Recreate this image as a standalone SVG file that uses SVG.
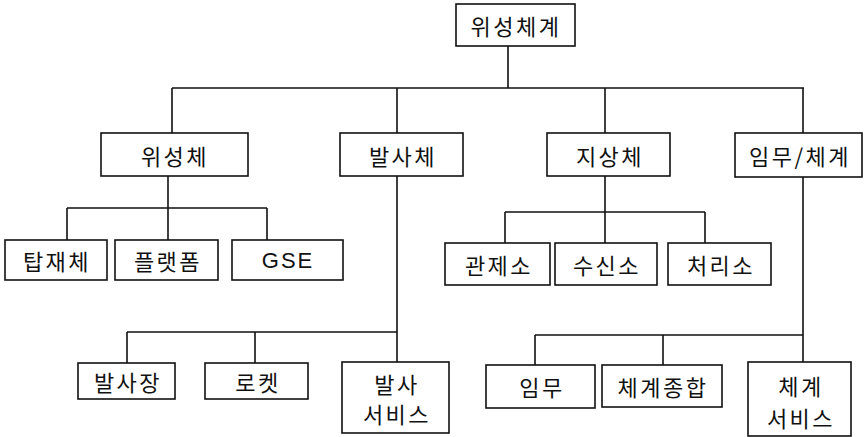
<svg xmlns="http://www.w3.org/2000/svg" width="864" height="437" viewBox="0 0 864 437">
<style>
rect{fill:#fff;stroke:#111;stroke-width:1.6}
text{font-family:"Noto Sans CJK KR","Noto Sans",sans-serif;font-size:22px;fill:#111;text-anchor:middle;dominant-baseline:central;letter-spacing:2.5px}
.lat{font-family:"Liberation Sans",Arial,sans-serif;font-size:22px;letter-spacing:2px}
#connectors path{fill:none;stroke:#111;stroke-width:1.6}
</style>
<rect x="0" y="0" width="864" height="437" style="fill:#fff;stroke:none"/>
<g id="connectors">
<path d="M508 46V88M172 88H804M172 88V133M397 88V133M605 88V133M803 88V133"/>
<path d="M168 176V208M67 208H267M67 208V240M168 208V240M267 208V240"/>
<path d="M605 176V212M505 212H705M505 212V243M605 212V243M705 212V243"/>
<path d="M397 176V332M127 332H397M127 332V363M255 332V363M397 332V362"/>
<path d="M803 177V335M535 335H803M535 335V365M663 335V365M803 335V362"/>
</g>
<g id="n-root"><rect x="456" y="4" width="119" height="42"/><text x="516" y="25">위성체계</text></g>
<g id="n-sat"><rect x="101" y="133" width="147" height="43"/><text x="175" y="155">위성체</text></g>
<g id="n-lv"><rect x="340" y="133" width="123" height="43"/><text x="403" y="155">발사체</text></g>
<g id="n-gnd"><rect x="547" y="133" width="123" height="43"/><text x="610" y="155">지상체</text></g>
<g id="n-msn"><rect x="735" y="133" width="127" height="44"/><text x="800" y="155">임무/체계</text></g>
<g id="n-payload"><rect x="5" y="240" width="102" height="40"/><text x="57" y="260">탑재체</text></g>
<g id="n-platform"><rect x="115" y="240" width="103" height="40"/><text x="168" y="260">플랫폼</text></g>
<g id="n-gse"><rect x="232" y="240" width="111" height="40"/><text class="lat" x="288" y="260">GSE</text></g>
<g id="n-ctrl"><rect x="445" y="243" width="105" height="42"/><text x="499" y="264">관제소</text></g>
<g id="n-recv"><rect x="555" y="243" width="102" height="42"/><text x="607" y="264">수신소</text></g>
<g id="n-proc"><rect x="668" y="243" width="103" height="42"/><text x="721" y="264">처리소</text></g>
<g id="n-site"><rect x="78" y="363" width="97" height="36"/><text x="128" y="381">발사장</text></g>
<g id="n-rocket"><rect x="205" y="363" width="103" height="36"/><text x="258" y="381">로켓</text></g>
<g id="n-lvsvc"><rect x="342" y="362" width="107" height="71"/><text x="397" y="383">발사</text><text x="397" y="413">서비스</text></g>
<g id="n-mission"><rect x="486" y="365" width="109" height="43"/><text x="542" y="386">임무</text></g>
<g id="n-integ"><rect x="602" y="365" width="120" height="42"/><text x="663" y="386">체계종합</text></g>
<g id="n-syssvc"><rect x="748" y="362" width="103" height="74"/><text x="801" y="385">체계</text><text x="801" y="417">서비스</text></g>
</svg>
